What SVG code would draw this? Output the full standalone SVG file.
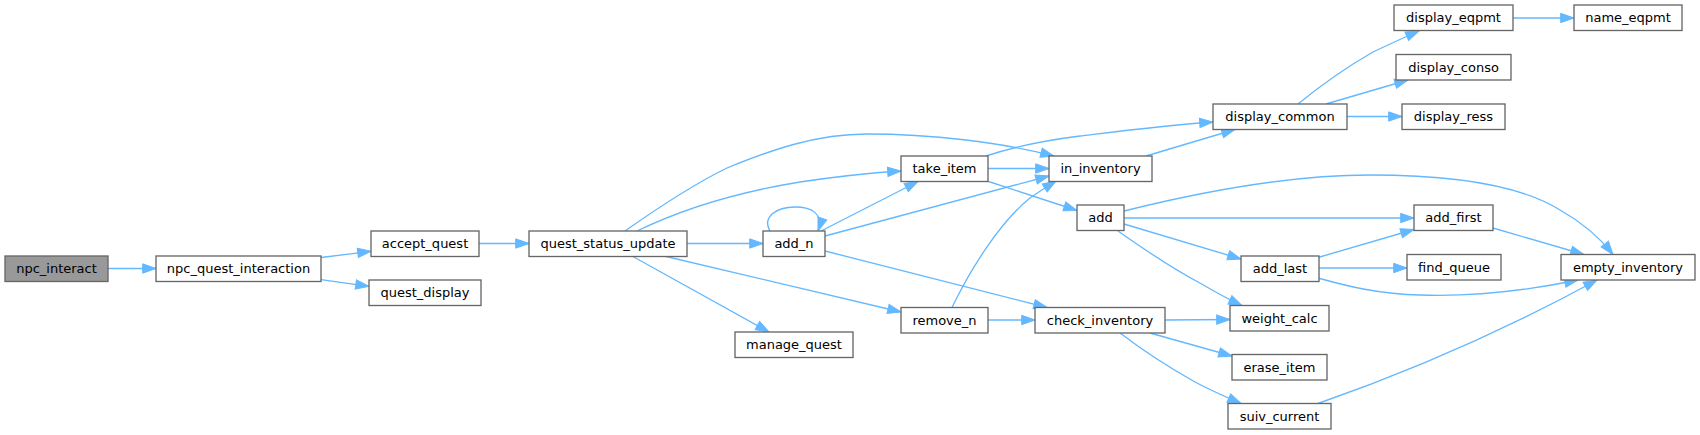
<svg xmlns="http://www.w3.org/2000/svg" width="1700" height="435" viewBox="0 0 1700 435">
<style>
.n rect{fill:#ffffff;stroke:#666666;stroke-width:1.33}
.n.root rect{fill:#999999}
.n text{font-family:"DejaVu Sans","Liberation Sans",sans-serif;font-size:13px;fill:#000000;text-anchor:middle}
.e path{fill:none;stroke:#63b8ff;stroke-width:1.33;marker-end:url(#ah)}
</style>
<defs>
<marker id="ah" markerUnits="userSpaceOnUse" markerWidth="15" markerHeight="11" refX="13.3" refY="4.67" orient="auto" overflow="visible">
<path d="M0,0 L13.3,4.67 L0,9.33 Z" fill="#63b8ff" stroke="#63b8ff" stroke-width="1"/>
</marker>
</defs>
<rect width="1700" height="435" fill="#ffffff"/>
<g id="edges" class="e">
<path d="M108,268.5 L156,268.5"/>
<path d="M321,257.5 L371,251.3"/>
<path d="M321,279.7 L369,286.3"/>
<path d="M479,243.5 L529,243.5"/>
<path d="M687,243.5 L763,243.5"/>
<path d="M625,231 C652,212 690,186 727,168 C771,150 816,134 867,134 C930,134 1000,142 1054,156"/>
<path d="M637,231 C670,215 720,195 800,182 C840,176 870,173 901,171"/>
<path d="M664,256 L901,312"/>
<path d="M632,256 L769,332"/>
<path d="M770,231 C762,217 776,207 795,207 C812,207 824,214 818,231"/>
<path d="M821,231 L918,181.5"/>
<path d="M825,236 L1049,176"/>
<path d="M825,251 L1047,307.5"/>
<path d="M988,168.5 L1049,168.5"/>
<path d="M986,156 C1010,148 1040,141 1080,136 C1130,130 1170,125 1213,122"/>
<path d="M987,181 L1077,210.5"/>
<path d="M952,307.5 C970,270 1000,222 1030,198 C1040,191 1048,186 1056,181"/>
<path d="M988,320 L1035,320"/>
<path d="M1146,156 L1235,129.5"/>
<path d="M1298,104 C1320,86 1345,68 1373,52 C1390,44 1405,37 1419,31"/>
<path d="M1326,104 L1408,80"/>
<path d="M1347,116.5 L1402,116.5"/>
<path d="M1513,18 L1574,18"/>
<path d="M1124,211 C1200,192 1290,175 1370,175 C1450,175 1520,185 1560,210 C1585,224 1600,238 1613,254.5"/>
<path d="M1124,218 L1414,218"/>
<path d="M1124,224 L1241,259"/>
<path d="M1118,231 C1145,250 1175,270 1200,283 C1215,292 1228,299 1242,305.5"/>
<path d="M1318,257.5 L1414,229.5"/>
<path d="M1319,268 L1407,268"/>
<path d="M1318,278 C1350,287 1380,294 1420,295 C1480,297 1530,290 1578,280"/>
<path d="M1493,228 L1584,254.5"/>
<path d="M1165,320 L1230,319.5"/>
<path d="M1150,333 L1232,356"/>
<path d="M1120,333 C1145,352 1170,368 1195,382 C1210,390 1226,397 1241,403.5"/>
<path d="M1318,403.5 C1400,375 1500,333 1597,280"/>
</g>
<g id="npc_interact" class="n root"><rect x="5" y="256" width="103" height="25.5"/><text x="56.5" y="273">npc_interact</text></g>
<g id="npc_quest_interaction" class="n"><rect x="156" y="256" width="165" height="25.5"/><text x="238.5" y="273">npc_quest_interaction</text></g>
<g id="accept_quest" class="n"><rect x="371" y="231" width="108" height="25.5"/><text x="425" y="248">accept_quest</text></g>
<g id="quest_display" class="n"><rect x="369" y="280" width="112" height="25.5"/><text x="425" y="297">quest_display</text></g>
<g id="quest_status_update" class="n"><rect x="529" y="231" width="158" height="25.5"/><text x="608" y="248">quest_status_update</text></g>
<g id="add_n" class="n"><rect x="763" y="231" width="62" height="25.5"/><text x="794" y="248">add_n</text></g>
<g id="manage_quest" class="n"><rect x="735" y="332" width="118" height="25.5"/><text x="794" y="349">manage_quest</text></g>
<g id="take_item" class="n"><rect x="901" y="156" width="87" height="25.5"/><text x="944.5" y="173">take_item</text></g>
<g id="remove_n" class="n"><rect x="901" y="307.5" width="87" height="25.5"/><text x="944.5" y="324.5">remove_n</text></g>
<g id="in_inventory" class="n"><rect x="1049" y="156" width="103" height="25.5"/><text x="1100.5" y="173">in_inventory</text></g>
<g id="add" class="n"><rect x="1077" y="205" width="47" height="25.5"/><text x="1100.5" y="222">add</text></g>
<g id="check_inventory" class="n"><rect x="1035" y="307.5" width="130" height="25.5"/><text x="1100" y="324.5">check_inventory</text></g>
<g id="display_common" class="n"><rect x="1213" y="104" width="134" height="25.5"/><text x="1280" y="121">display_common</text></g>
<g id="add_last" class="n"><rect x="1241" y="256" width="78" height="25.5"/><text x="1280" y="273">add_last</text></g>
<g id="weight_calc" class="n"><rect x="1230" y="305.5" width="99" height="25.5"/><text x="1279.5" y="322.5">weight_calc</text></g>
<g id="erase_item" class="n"><rect x="1232" y="354.5" width="95" height="25.5"/><text x="1279.5" y="371.5">erase_item</text></g>
<g id="suiv_current" class="n"><rect x="1228" y="403.5" width="103" height="25.5"/><text x="1279.5" y="420.5">suiv_current</text></g>
<g id="display_eqpmt" class="n"><rect x="1394" y="5" width="119" height="25.5"/><text x="1453.5" y="22">display_eqpmt</text></g>
<g id="display_conso" class="n"><rect x="1396" y="54.5" width="115" height="25.5"/><text x="1453.5" y="71.5">display_conso</text></g>
<g id="display_ress" class="n"><rect x="1402" y="104" width="103" height="25.5"/><text x="1453.5" y="121">display_ress</text></g>
<g id="add_first" class="n"><rect x="1414" y="205" width="79" height="25.5"/><text x="1453.5" y="222">add_first</text></g>
<g id="find_queue" class="n"><rect x="1407" y="254.5" width="94" height="25.5"/><text x="1454" y="271.5">find_queue</text></g>
<g id="name_eqpmt" class="n"><rect x="1574" y="5" width="108" height="25.5"/><text x="1628" y="22">name_eqpmt</text></g>
<g id="empty_inventory" class="n"><rect x="1561" y="254.5" width="134" height="25.5"/><text x="1628" y="271.5">empty_inventory</text></g>
</svg>
